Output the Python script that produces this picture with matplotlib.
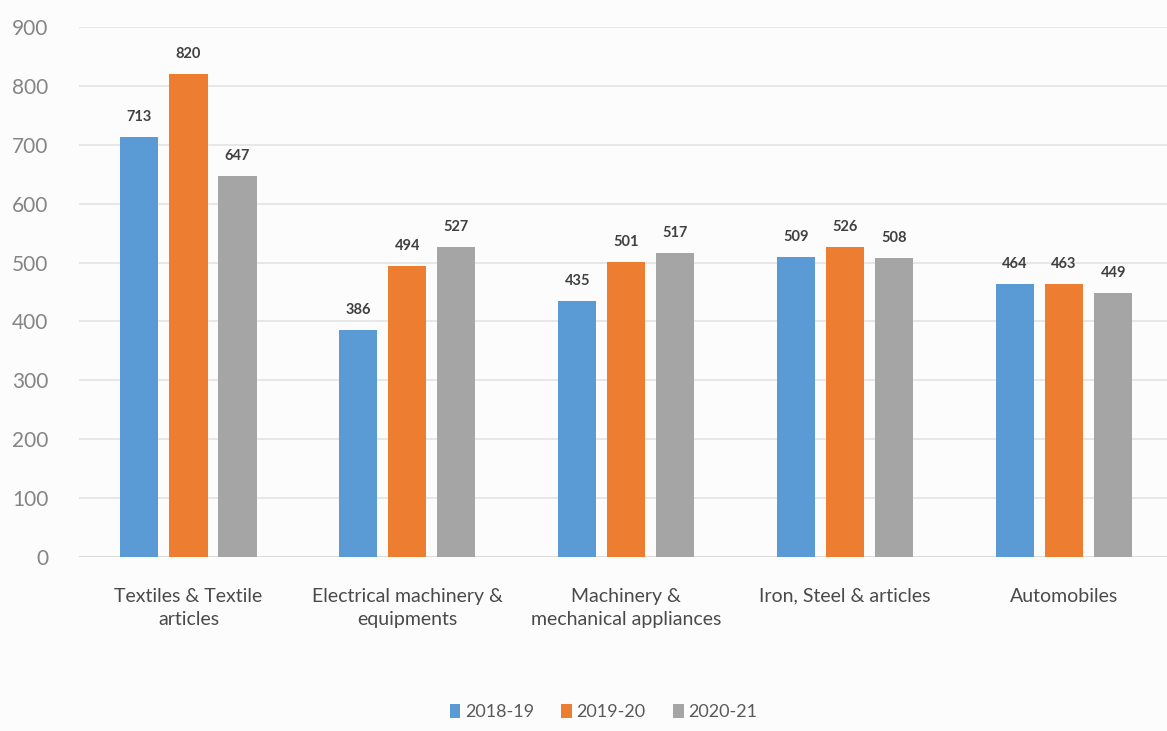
import numpy as np
import matplotlib
matplotlib.use("Agg")
import matplotlib.pyplot as plt

categorias = ["Textiles & Textile\narticles",
              "Electrical machinery &\nequipments",
              "Machinery &\nmechanical appliances",
              "Iron, Steel & articles",
              "Automobiles"]
anos = ["2018-19", "2019-20", "2020-21"]
v2018 = [713, 386, 435, 509, 464]
v2019 = [820, 494, 501, 526, 463]
v2020 = [647, 527, 517, 508, 449]
cores = ["#5b9bd5", "#ed7d31", "#a5a5a5"]
yticks = [0, 100, 200, 300, 400, 500, 600, 700, 800, 900]

plt.rcParams['font.family'] = ['Lato', 'DejaVu Sans']

fig = plt.figure(figsize=(11.67, 7.31), dpi=100)
fig.patch.set_facecolor("#fcfcfc")
ax = fig.add_axes([0.0677, 0.238, 0.9323, 0.725])
ax.set_facecolor("#fcfcfc")

x = np.arange(len(categorias))
largura = 0.174
passo = 0.224
for i, (serie, nome) in enumerate(zip([v2018, v2019, v2020], anos)):
    pos = x + (i - 1) * passo
    barras = ax.bar(pos, serie, largura, color=cores[i], label=nome, zorder=3)
    for b, v in zip(barras, serie):
        ax.text(b.get_x() + b.get_width() / 2, v + 22, str(v), ha="center", va="bottom",
                fontsize=10.5, fontweight="bold", color="#404040")

ax.set_xlim(-0.5, 4.47)
ax.set_ylim(0, 900)
ax.set_yticks(yticks)
ax.yaxis.grid(True, color="#e3e3e3", linewidth=1.2, zorder=0)
ax.tick_params(axis="y", length=0, labelsize=15, labelcolor="#858585", pad=22)
ax.set_xticks(x)
ax.set_xticklabels(categorias, fontsize=14, color="#4a4a4a", linespacing=1.45)
ax.tick_params(axis="x", length=0, pad=22)
for s in ax.spines.values():
    s.set_visible(False)
ax.axhline(0, color="#d9d9d9", linewidth=1.2, zorder=2)

leg = fig.legend(loc="center", bbox_to_anchor=(0.517, 0.026), ncol=3, frameon=False,
                 fontsize=13, handlelength=0.6, handleheight=0.8, handletextpad=0.25,
                 columnspacing=1.5)
for t in leg.get_texts():
    t.set_color("#595959")

fig.savefig("out.png", dpi=100, facecolor=fig.get_facecolor())
